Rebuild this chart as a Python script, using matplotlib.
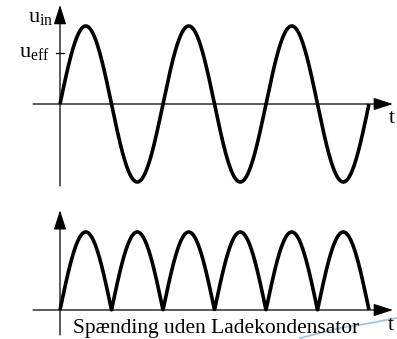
import numpy as np
import matplotlib
matplotlib.use("Agg")
import matplotlib.pyplot as plt

plt.rcParams["font.family"] = ["Liberation Serif", "DejaVu Serif"]
plt.rcParams["mathtext.fontset"] = "custom"
plt.rcParams["mathtext.rm"] = "Liberation Serif"

# signal parameters (time in periods, voltage relative to peak)
n_periods = 3
u_peak = 1.0
u_eff = 0.66
caption = "Spænding uden Ladekondensator"

# stray pen stroke under the caption (bottom panel units)
stroke_t = [2.33, 2.72, 3.0, 3.28]
stroke_u = [-0.36, -0.23, -0.17, -0.10]

t = np.linspace(0, n_periods, 1200)
u_in = u_peak * np.sin(2 * np.pi * t)
u_rect = np.abs(u_in)

W, H = 397, 339
fig = plt.figure(figsize=(W / 100, H / 100), dpi=100)
fig.patch.set_facecolor("white")

ax1 = fig.add_axes([0, 1 - 200 / H, 1, 200 / H])
ax2 = fig.add_axes([0, 0, 1, 139 / H])
for ax in (ax1, ax2):
    ax.set_axis_off()
    ax.set_xlim(-60 / 103, 337 / 103)
ax1.set_ylim(-96 / 78, 104 / 78)
ax2.set_ylim(-29 / 78, 110 / 78)

CURVE_LW = 2.6
AXIS_LW = 0.9


def arrow(ax, start, tip):
    ax.annotate(
        "", xy=tip, xytext=start,
        arrowprops=dict(
            arrowstyle="-|>,head_length=0.5,head_width=0.16",
            lw=AXIS_LW, color="black", shrinkA=0, shrinkB=0,
            mutation_scale=24,
        ),
        annotation_clip=False,
    )


# top panel: input voltage
arrow(ax1, (-0.262, 0), (3.233, 0))
arrow(ax1, (0, -1.05), (0, 1.27))
ax1.plot([-0.04, 0.04], [u_eff, u_eff], color="black", lw=AXIS_LW)
ax1.plot(t, u_in, color="black", lw=CURVE_LW, solid_capstyle="butt")
ax1.text(-0.068, 1.05, r"$\mathrm{u_{in}}$", ha="right", va="baseline", fontsize=16)
ax1.text(-0.097, 0.60, r"$\mathrm{u_{eff}}$", ha="right", va="baseline", fontsize=16)
ax1.text(3.218, -0.244, "t", ha="center", va="baseline", fontsize=16)

# bottom panel: full-wave rectified voltage
arrow(ax2, (-0.262, 0), (3.233, 0))
arrow(ax2, (0, -0.32), (0, 1.28))
ax2.plot(t, u_rect, color="black", lw=CURVE_LW, solid_capstyle="butt")
ax2.text(3.214, -0.256, "t", ha="center", va="baseline", fontsize=16)
ax2.text(1.519, -0.295, caption, ha="center", va="baseline", fontsize=15.5)
ax2.plot(stroke_t, stroke_u, color="#9cc3e0", lw=1.2, clip_on=False)

fig.savefig("out.png", dpi=100)
